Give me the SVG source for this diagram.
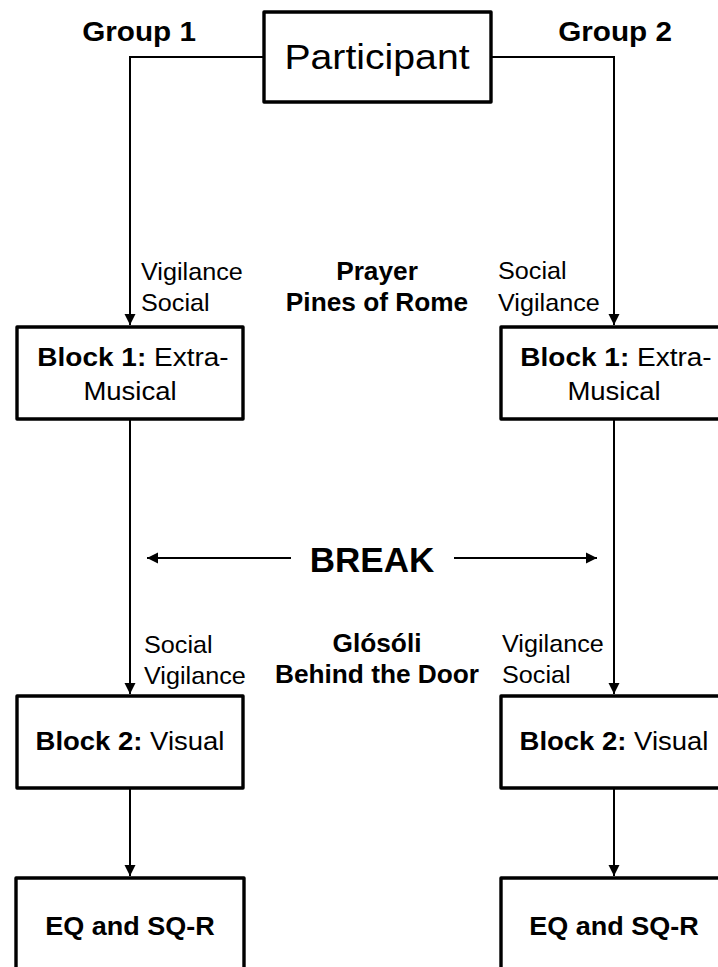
<svg xmlns="http://www.w3.org/2000/svg" width="718" height="967" viewBox="0 0 718 967">
<style>
  .box{fill:#fff;stroke:#000;stroke-width:3.4;stroke-linejoin:round}
  .ln{fill:none;stroke:#000;stroke-width:2}
  .reg{font-family:"Liberation Sans",Arial,sans-serif;font-size:24px;fill:#000}
  .bld{font-family:"Liberation Sans",Arial,sans-serif;font-size:25px;font-weight:bold;fill:#000}
  .b{font-weight:bold}
  .n{font-weight:normal}
</style>
<defs>
  <marker id="ah" markerUnits="userSpaceOnUse" markerWidth="12" markerHeight="12" refX="11" refY="6" orient="auto">
    <path d="M0,0.5 L11,6 L0,11.5 Z" fill="#000"/>
  </marker>
</defs>
<rect width="718" height="967" fill="#fff"/>
<g id="connectors">
  <path class="ln" d="M264,57 H130 V325" marker-end="url(#ah)"/>
  <path class="ln" d="M491,57 H614 V325" marker-end="url(#ah)"/>
  <path class="ln" d="M130,419 V694" marker-end="url(#ah)"/>
  <path class="ln" d="M614,419 V694" marker-end="url(#ah)"/>
  <path class="ln" d="M130,788 V876" marker-end="url(#ah)"/>
  <path class="ln" d="M614,788 V876" marker-end="url(#ah)"/>
  <path class="ln" d="M291,558 H147" marker-end="url(#ah)"/>
  <path class="ln" d="M454,558 H597" marker-end="url(#ah)"/>
</g>
<g id="labels">
  <text class="bld" transform="translate(139,41) scale(1.06,1)" text-anchor="middle" style="font-size:28px">Group 1</text>
  <text class="bld" transform="translate(615,41) scale(1.06,1)" text-anchor="middle" style="font-size:28px">Group 2</text>
  <text class="reg" transform="translate(141,280) scale(1.05,1)">Vigilance</text>
  <text class="reg" transform="translate(141,311) scale(1.05,1)">Social</text>
  <text class="reg" transform="translate(498,279) scale(1.05,1)">Social</text>
  <text class="reg" transform="translate(498,311) scale(1.05,1)">Vigilance</text>
  <text class="bld" transform="translate(377,280) scale(1.05,1)" text-anchor="middle">Prayer</text>
  <text class="bld" transform="translate(377,311) scale(1.05,1)" text-anchor="middle">Pines of Rome</text>
  <text class="bld" transform="translate(372,572)" text-anchor="middle" style="font-size:35px">BREAK</text>
  <text class="reg" transform="translate(144,653) scale(1.05,1)">Social</text>
  <text class="reg" transform="translate(144,684) scale(1.05,1)">Vigilance</text>
  <text class="reg" transform="translate(502,652) scale(1.05,1)">Vigilance</text>
  <text class="reg" transform="translate(502,683) scale(1.05,1)">Social</text>
  <text class="bld" transform="translate(377,652) scale(1.05,1)" text-anchor="middle">Glósóli</text>
  <text class="bld" transform="translate(377,683) scale(1.05,1)" text-anchor="middle">Behind the Door</text>
</g>
<g id="participant">
  <rect class="box" x="264" y="12" width="227" height="90"/>
  <text class="reg" transform="translate(377,69) scale(1.12,1)" text-anchor="middle" style="font-size:35px">Participant</text>
</g>
<g id="g1-block1">
  <rect class="box" x="17" y="327" width="226" height="92"/>
  <text class="bld" transform="translate(133,366) scale(1.12,1)" text-anchor="middle">Block 1: <tspan class="n">Extra-</tspan></text>
  <text class="reg" transform="translate(130,400) scale(1.1,1)" text-anchor="middle" style="font-size:25px">Musical</text>
</g>
<g id="g2-block1">
  <rect class="box" x="501" y="327" width="226" height="92"/>
  <text class="bld" transform="translate(616,366) scale(1.12,1)" text-anchor="middle">Block 1: <tspan class="n">Extra-</tspan></text>
  <text class="reg" transform="translate(614,400) scale(1.1,1)" text-anchor="middle" style="font-size:25px">Musical</text>
</g>
<g id="g1-block2">
  <rect class="box" x="17" y="696" width="226" height="92"/>
  <text class="bld" transform="translate(130,750) scale(1.1,1)" text-anchor="middle">Block 2: <tspan class="n">Visual</tspan></text>
</g>
<g id="g2-block2">
  <rect class="box" x="501" y="696" width="226" height="92"/>
  <text class="bld" transform="translate(614,750) scale(1.1,1)" text-anchor="middle">Block 2: <tspan class="n">Visual</tspan></text>
</g>
<g id="g1-eq">
  <rect class="box" x="16" y="878" width="228" height="110"/>
  <text class="bld" transform="translate(130,935) scale(1.08,1)" text-anchor="middle">EQ and SQ-R</text>
</g>
<g id="g2-eq">
  <rect class="box" x="501" y="878" width="228" height="110"/>
  <text class="bld" transform="translate(614,935) scale(1.08,1)" text-anchor="middle">EQ and SQ-R</text>
</g>
</svg>
